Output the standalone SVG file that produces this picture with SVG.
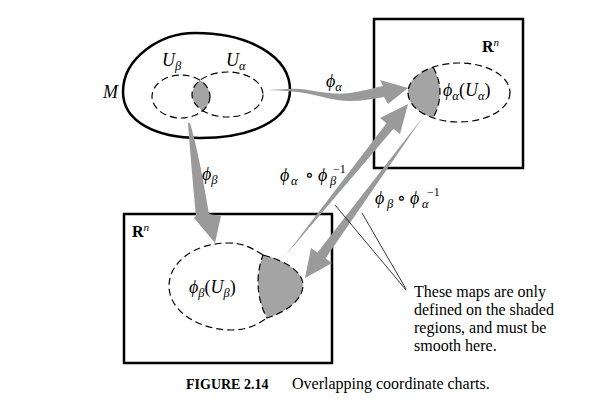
<svg xmlns="http://www.w3.org/2000/svg" width="597" height="416" viewBox="0 0 597 416">
<style>
  .bg{fill:#ffffff}
  .thick{fill:none;stroke:#000;stroke-width:2.5}
  .dash{fill:none;stroke:#000;stroke-width:1.2;stroke-dasharray:7 4}
  .shade{fill:#a4a4a4}
  .arrow{fill:#9a9a9a}
  .lead{fill:none;stroke:#000;stroke-width:0.8}
  text{font-family:"Liberation Serif","DejaVu Serif",serif;fill:#000}
  .m{font-size:18px;font-style:italic}
  .s{font-size:12.5px;font-style:italic}
  .up{font-style:normal}
  .sup{font-size:12px;font-style:normal}
  .rb{font-size:16px;font-weight:bold}
  .rn{font-size:11px;font-style:italic}
  .note{font-size:16px}
  .capb{font-size:14px;font-weight:bold}
  .cap{font-size:16px}
</style>
<defs>
  <clipPath id="clipUb"><ellipse cx="181" cy="96.5" rx="29" ry="21.5"/></clipPath>
</defs>
<rect class="bg" x="0" y="0" width="597" height="416"/>

<g id="manifold-M">
  <path class="thick" d="M123,92 C123,58 160,33 195,33 C250,33 290,57 290,90 C290,121 250,138 200,138 C155,138 123,121 123,92 Z"/>
  <ellipse class="shade" cx="227.5" cy="94.5" rx="35.5" ry="22.5" clip-path="url(#clipUb)"/>
  <ellipse class="dash" cx="181" cy="96.5" rx="29" ry="21.5"/>
  <ellipse class="dash" cx="227.5" cy="94.5" rx="35.5" ry="22.5"/>
  <text class="m" x="103" y="98">M</text>
  <text class="m" x="162" y="66">U<tspan class="s" dy="4">β</tspan></text>
  <text class="m" x="226" y="66">U<tspan class="s" dy="4">α</tspan></text>
</g>

<g id="chart-alpha">
  <rect class="thick" x="374" y="19" width="149" height="149"/>
  <text class="rb" x="482" y="52">R<tspan class="rn" dy="-6" font-weight="normal">n</tspan></text>
  <path class="shade" d="M433,67 A51,29.5 0 0 0 433,118 Q447,92 433,67 Z"/>
  <ellipse class="dash" cx="459" cy="92.5" rx="51" ry="29.5"/>
  <path class="dash" d="M433,67 Q447,92 433,118"/>
  <text class="m" x="443" y="96">ϕ<tspan class="s" dy="4">α</tspan><tspan class="up" dy="-4">(</tspan>U<tspan class="s" dy="4">α</tspan><tspan class="up" dy="-4">)</tspan></text>
</g>

<g id="chart-beta">
  <rect class="thick" x="124" y="214" width="208" height="149"/>
  <text class="rb" x="132" y="237">R<tspan class="rn" dy="-6" font-weight="normal">n</tspan></text>
  <path class="shade" d="M263,255 C290,262 303,274 303,285 C303,300 286,312 267,318 C257,300 255,276 263,255 Z"/>
  <path class="dash" d="M263,255 C250,247 243,243 228,243 C195,243 169,262 169,286 C169,312 200,330 232,330 C248,330 258,324 267,318"/>
  <path class="dash" d="M263,255 C290,262 303,274 303,285 C303,300 286,312 267,318 C257,300 255,276 263,255"/>
  <text class="m" x="189" y="293">ϕ<tspan class="s" dy="4">β</tspan><tspan class="up" dy="-4">(</tspan>U<tspan class="s" dy="4">β</tspan><tspan class="up" dy="-4">)</tspan></text>
</g>

<g id="connectors">
  <path id="phi-alpha" class="arrow" d="M268,90 C285,89.5 295,88 305,89.5 C320,92 335,95 350,93 C362,91.5 372,88 383,86 L380,80 L408,88 L388,104 L384,97 C372,99 362,101 350,101 C335,101 320,96 305,93 C295,91.5 285,90.5 268,90 Z"/>
  <path id="phi-beta" class="arrow" d="M188,123 C190,150 193,185 196,216 L194,218 L215,243 L221,216 L209,214 C204,185 198,150 190,123 Z"/>
  <path id="alpha-beta-inv" class="arrow" d="M285,256 L386.5,123.2 L380,118 L408,104 L400,134 L393.5,128.8 Z"/>
  <path id="beta-alpha-inv" class="arrow" d="M423,117 L325.5,258.4 L332,263 L305,278 L311,248 L317.5,252.4 Z"/>
  <text class="m" x="326" y="87">ϕ<tspan class="s" dy="4">α</tspan></text>
  <text class="m" x="202" y="180">ϕ<tspan class="s" dy="4">β</tspan></text>
  <text class="m" x="280" y="181">ϕ<tspan class="s" x="291" y="185">α</tspan><tspan class="up" x="305" y="181">∘</tspan><tspan x="318" y="181">ϕ</tspan><tspan class="s" x="330" y="185">β</tspan><tspan class="sup" x="333" y="173">−1</tspan></text>
  <text class="m" x="375" y="204">ϕ<tspan class="s" x="387" y="208">β</tspan><tspan class="up" x="397" y="204">∘</tspan><tspan x="410" y="204">ϕ</tspan><tspan class="s" x="422" y="208">α</tspan><tspan class="sup" x="427" y="196">−1</tspan></text>
</g>

<g id="note">
  <path class="lead" d="M335,205 L406,290"/>
  <path class="lead" d="M362,213 L406,289"/>
  <text class="note" x="414" y="297">These maps are only</text>
  <text class="note" x="414" y="315">defined on the shaded</text>
  <text class="note" x="414" y="333">regions, and must be</text>
  <text class="note" x="414" y="351">smooth here.</text>
</g>

<g id="caption">
  <text class="capb" x="186" y="389">FIGURE 2.14</text>
  <text class="cap" x="292" y="389">Overlapping coordinate charts.</text>
</g>
</svg>
